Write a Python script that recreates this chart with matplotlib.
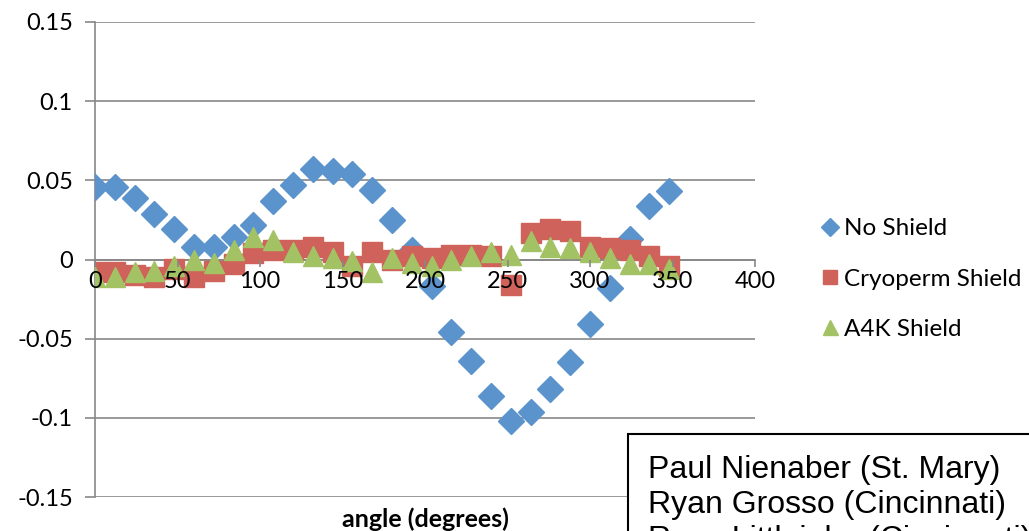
import matplotlib
matplotlib.use("Agg")
from matplotlib import pyplot as plt
from matplotlib.patches import Rectangle

# Dữ liệu
angle = [0, 12, 24, 36, 48, 60, 72, 84, 96, 108, 120, 132, 144, 156, 168,
         180, 192, 204, 216, 228, 240, 252, 264, 276, 288, 300, 312, 324, 336, 348]
no_shield = [0.046, 0.0455, 0.039, 0.029, 0.019, 0.008, 0.008, 0.014, 0.022, 0.037,
             0.047, 0.057, 0.056, 0.054, 0.044, 0.025, 0.006, -0.017, -0.046, -0.064,
             -0.086, -0.102, -0.096, -0.082, -0.065, -0.041, -0.018, 0.013, 0.034, 0.043]
cryoperm = [-0.008, -0.008, -0.0095, -0.011, -0.006, -0.011, -0.0075, -0.003, 0.004, 0.006,
            0.006, 0.008, 0.0045, -0.004, 0.005, 0.0, 0.002, 0.001, 0.003, 0.003,
            0.002, -0.016, 0.017, 0.019, 0.018, 0.008, 0.0075, 0.006, 0.002, -0.004]
a4k = [-0.011, -0.011, -0.008, -0.0075, -0.004, 0.0, -0.002, 0.006, 0.014, 0.0125,
       0.0045, 0.002, 0.001, -0.001, -0.008, 0.001, -0.002, -0.004, 0.0, 0.002,
       0.0045, 0.003, 0.0115, 0.008, 0.0075, 0.0045, 0.001, -0.003, -0.003, -0.006]

yticks = [-0.15, -0.1, -0.05, 0, 0.05, 0.1, 0.15]
ytick_labels = ['-0.15', '-0.1', '-0.05', '0', '0.05', '0.1', '0.15']
xticks = [0, 50, 100, 150, 200, 250, 300, 350, 400]
names = ['Paul Nienaber (St. Mary)', 'Ryan Grosso (Cincinnati)', 'Ryan Littlejohn (Cincinnati)']

plt.rcParams['font.family'] = ['Lato', 'DejaVu Sans']

W, H = 1029, 531
fig = plt.figure(figsize=(W / 100, H / 100), dpi=100)
ax = fig.add_axes([95 / W, 1 - 497 / H, 660 / W, 475 / H])

grid_c = '#878787'
ax.plot(angle, no_shield, linestyle='none', marker='D', markersize=13,
        color='#5B93CC', label='No Shield')
ax.plot(angle, cryoperm, linestyle='none', marker='s', markersize=14,
        color='#CF625B', label='Cryoperm Shield')
ax.plot(angle, a4k, linestyle='none', marker='^', markersize=15,
        color='#A3C263', label='A4K Shield')

ax.set_xlim(0, 400)
ax.set_ylim(-0.15, 0.15)
ax.set_yticks(yticks)
ax.set_yticklabels(ytick_labels)
ax.set_xticks(xticks)
ax.tick_params(axis='both', labelsize=17, color=grid_c, length=7, width=1.2)
ax.tick_params(axis='x', pad=3, direction='out', length=5)
ax.tick_params(axis='y', pad=9)
ax.yaxis.grid(True, color=grid_c, linewidth=1.2)
ax.set_axisbelow(True)
ax.xaxis.set_zorder(6)

for s in ['top', 'right']:
    ax.spines[s].set_visible(False)
ax.spines['bottom'].set_position(('data', 0))
for s in ['bottom', 'left']:
    ax.spines[s].set_color(grid_c)
    ax.spines[s].set_linewidth(1.2)
    ax.spines[s].set_zorder(1)

fig.text(425 / W, 1 - 519 / H, 'angle (degrees)', ha='center', va='center',
         fontsize=18, fontweight='bold')

fig.legend(loc='center left', bbox_to_anchor=(818 / W, 1 - 279 / H),
           frameon=False, fontsize=17.5, labelspacing=1.2, handletextpad=0.05,
           handlelength=1.0, markerscale=0.72, borderaxespad=0, borderpad=0)

# hộp tên tác giả, bị cắt ở mép hình
fig.patches.append(Rectangle((628 / W, -0.1), 0.5, 1 - 434 / H + 0.1,
                             transform=fig.transFigure, facecolor='white',
                             edgecolor='black', linewidth=1.5, zorder=10))
for i, name in enumerate(names):
    fig.text(648 / W, 1 - (478 + 35 * i) / H, name, ha='left', va='baseline',
             fontsize=23, family=['Liberation Sans', 'DejaVu Sans'], zorder=11)

fig.savefig('out.png', dpi=100)
